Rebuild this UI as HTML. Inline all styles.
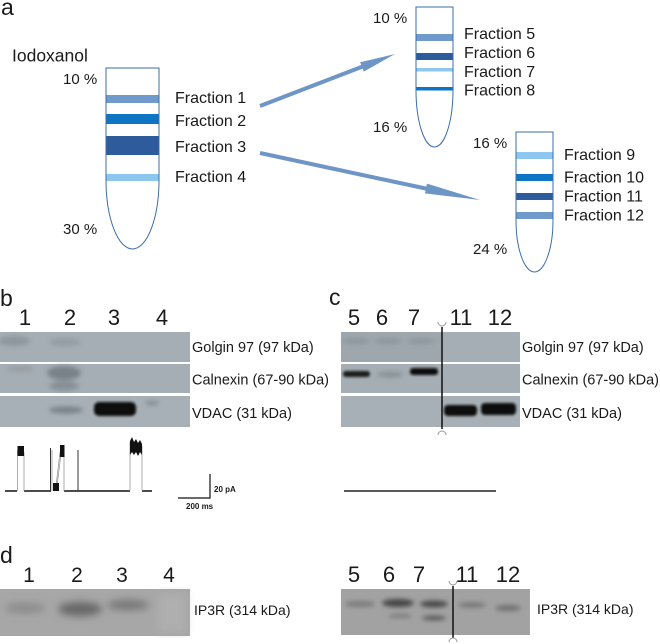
<!DOCTYPE html>
<html><head><meta charset="utf-8"><style>
html,body{margin:0;padding:0;background:#fff;}
svg{display:block;}
text{font-family:"Liberation Sans",Arial,sans-serif;fill:#1a1a1a;}
</style></head><body>
<svg width="660" height="644" viewBox="0 0 660 644" xmlns="http://www.w3.org/2000/svg">
<defs>
<filter id="f1" x="-50%" y="-100%" width="200%" height="300%"><feGaussianBlur stdDeviation="1.2"/></filter>
<filter id="f2" x="-50%" y="-100%" width="200%" height="300%"><feGaussianBlur stdDeviation="2.5"/></filter>
<filter id="f3" x="-50%" y="-100%" width="200%" height="300%"><feGaussianBlur stdDeviation="4"/></filter>
</defs>

<!-- Panel a -->
<text x="1" y="15" font-size="23">a</text>
<text x="12" y="61.5" font-size="17.5">Iodoxanol</text>

<!-- tube 1 -->
<rect x="106" y="95" width="53" height="8" fill="#6f9acb"/>
<rect x="106" y="114" width="53" height="10" fill="#0e75c5"/>
<rect x="106" y="136" width="53" height="19" fill="#2d5b9c"/>
<rect x="106" y="174" width="53" height="7" fill="#8dc6ef"/>
<path d="M106,68 H159 V180 A26.5,69 0 0 1 106,180 Z" fill="none" stroke="#3d6ea8" stroke-width="1"/>
<text x="63" y="84" font-size="15">10 %</text>
<text x="63" y="234" font-size="15">30 %</text>
<text x="175" y="103" font-size="16">Fraction 1</text>
<text x="175" y="126" font-size="16">Fraction 2</text>
<text x="175" y="152" font-size="16">Fraction 3</text>
<text x="175" y="182" font-size="16">Fraction 4</text>

<!-- arrows -->
<line x1="260" y1="106" x2="364" y2="66" stroke="#6d95c6" stroke-width="4"/>
<polygon points="395,54 363.8,71.6 360.2,62.3" fill="#6d95c6"/>
<line x1="260" y1="153" x2="428" y2="189" stroke="#6d95c6" stroke-width="4"/>
<polygon points="480,200 425,193.4 427,183.6" fill="#6d95c6"/>

<!-- tube 2 -->
<rect x="416" y="34" width="37" height="7" fill="#6f9acb"/>
<rect x="416" y="53" width="37" height="7" fill="#2d5b9c"/>
<rect x="416" y="68" width="37" height="3.5" fill="#8dc6ef"/>
<rect x="416" y="87" width="37" height="3.5" fill="#0e75c5"/>
<path d="M416,7 H453 V90 A18.5,57 0 0 1 416,90 Z" fill="none" stroke="#3d6ea8" stroke-width="1"/>
<text x="373" y="23" font-size="15">10 %</text>
<text x="373" y="132" font-size="15">16 %</text>
<text x="464" y="39" font-size="16">Fraction 5</text>
<text x="464" y="58" font-size="16">Fraction 6</text>
<text x="464" y="77" font-size="16">Fraction 7</text>
<text x="464" y="95.5" font-size="16">Fraction 8</text>

<!-- tube 3 -->
<rect x="516" y="152" width="37" height="7" fill="#8dc6ef"/>
<rect x="516" y="174" width="37" height="7" fill="#0e75c5"/>
<rect x="516" y="193" width="37" height="7" fill="#2d5b9c"/>
<rect x="516" y="212" width="37" height="7" fill="#6f9acb"/>
<path d="M516,132 H553 V220 A18.5,52 0 0 1 516,220 Z" fill="none" stroke="#3d6ea8" stroke-width="1"/>
<text x="473" y="148" font-size="15">16 %</text>
<text x="473" y="254" font-size="15">24 %</text>
<text x="564" y="160" font-size="16">Fraction 9</text>
<text x="564" y="182.5" font-size="16">Fraction 10</text>
<text x="564" y="201.5" font-size="16">Fraction 11</text>
<text x="564" y="220.5" font-size="16">Fraction 12</text>

<!-- Panel b -->
<text x="0" y="306" font-size="23">b</text>
<g font-size="22" text-anchor="middle">
<text x="25" y="325">1</text><text x="70" y="325">2</text><text x="114" y="325">3</text><text x="162" y="325">4</text>
</g>
<rect x="0" y="332" width="190" height="30" fill="#a5aeb4"/>
<rect x="0" y="364" width="190" height="29" fill="#a5aeb4"/>
<rect x="0" y="396" width="190" height="31" fill="#a7b0b6"/>
<g filter="url(#f2)">
<ellipse cx="14" cy="341" rx="16" ry="5" fill="#7a8389" opacity=".55"/>
<ellipse cx="65" cy="342" rx="16" ry="4" fill="#7a8389" opacity=".4"/>
<ellipse cx="20" cy="369" rx="14" ry="3" fill="#7a8389" opacity=".35"/>
<ellipse cx="64" cy="373" rx="17" ry="7" fill="#6a7379" opacity=".75"/>
<ellipse cx="64" cy="386" rx="15" ry="5" fill="#6f787e" opacity=".55"/>
<ellipse cx="66" cy="410" rx="17" ry="3.5" fill="#5f686e" opacity=".65"/>
<ellipse cx="152" cy="403" rx="7" ry="2.5" fill="#6f787e" opacity=".6"/>
</g>
<rect x="94" y="402" width="42" height="14" rx="5" fill="#0b0b0b" filter="url(#f1)"/>
<g font-size="14.5">
<text x="192" y="352">Golgin 97 (97 kDa)</text>
<text x="192" y="384.5">Calnexin (67-90 kDa)</text>
<text x="192" y="418">VDAC (31 kDa)</text>
</g>

<!-- Panel c -->
<text x="329" y="305" font-size="23">c</text>
<g font-size="22" text-anchor="middle">
<text x="354" y="325">5</text><text x="382" y="325">6</text><text x="414" y="325">7</text><text x="461" y="325">11</text><text x="500" y="325">12</text>
</g>
<rect x="341" y="332" width="179" height="30" fill="#a5aeb4"/>
<rect x="341" y="332" width="101" height="30" fill="#9ea7ad"/>
<rect x="341" y="364" width="179" height="29" fill="#a5aeb4"/>
<rect x="341" y="396" width="179" height="31" fill="#a7b0b6"/>
<g filter="url(#f2)">
<ellipse cx="356" cy="341" rx="14" ry="3" fill="#828b91" opacity=".6"/>
<ellipse cx="388" cy="341" rx="14" ry="3" fill="#828b91" opacity=".6"/>
<ellipse cx="421" cy="341" rx="14" ry="3" fill="#828b91" opacity=".6"/>
<ellipse cx="390" cy="374.5" rx="13" ry="3" fill="#7b8489" opacity=".7"/>
</g>
<g filter="url(#f1)">
<rect x="343" y="371" width="27" height="6" rx="3" fill="#1c1c1c"/>
<rect x="410" y="368" width="28" height="7" rx="3" fill="#111"/>
<rect x="444" y="405" width="33" height="11" rx="4" fill="#0a0a0a"/>
<rect x="481" y="403" width="35" height="12" rx="4" fill="#0a0a0a"/>
</g>
<line x1="442" y1="327" x2="442" y2="429" stroke="#111" stroke-width="1.5"/>
<path d="M438,322 A4,4 0 0 0 446,322" fill="none" stroke="#999" stroke-width="1"/>
<path d="M438,435 A4,4 0 0 1 446,435" fill="none" stroke="#999" stroke-width="1"/>
<g font-size="14.5">
<text x="522" y="352">Golgin 97 (97 kDa)</text>
<text x="522" y="384.5">Calnexin (67-90 kDa)</text>
<text x="522" y="418">VDAC (31 kDa)</text>
</g>

<!-- traces -->
<path d="M5,491H17 M24,491H51 M64,491H130 M142,491H152" stroke="#111" stroke-width="1.4" fill="none"/>
<path d="M17.5,491V450 M24,491V452 M52,491V450 M56,486L60,452 M57,486L61,454 M64,491V452 M130,491V442 M142,491V446" stroke="#999" stroke-width="0.8" fill="none"/>
<path d="M50.5,491V448 M78,491V450" stroke="#333" stroke-width="1" fill="none"/>
<rect x="17.5" y="446" width="6.5" height="10" fill="#111"/>
<rect x="60" y="445" width="4.5" height="12" fill="#111"/>
<rect x="53" y="483" width="6" height="8" fill="#111"/>
<path d="M130,441 L132,437 L134,442 L136,439 L138,443 L140,440 L142,444 V455 L140,452 L138,456 L136,452 L134,455 L132,452 L130,455 Z" fill="#111"/>
<path d="M178,498 H210 V474" stroke="#111" stroke-width="1.2" fill="none"/>
<text x="214" y="492" font-size="8" font-weight="bold">20 pA</text>
<text x="186" y="509" font-size="8" font-weight="bold">200 ms</text>
<path d="M344,491 H496" stroke="#222" stroke-width="1.6"/>

<!-- Panel d -->
<text x="0" y="563" font-size="23">d</text>
<g font-size="21" text-anchor="middle">
<text x="29" y="582">1</text><text x="77" y="582">2</text><text x="122" y="582">3</text><text x="169" y="582">4</text>
</g>
<rect x="0" y="589" width="190" height="47" fill="#a7a7a7"/>
<g filter="url(#f3)">
<rect x="158" y="594" width="28" height="38" fill="#afafaf"/>
</g>
<g filter="url(#f3)">
<ellipse cx="25" cy="608" rx="20" ry="5" fill="#8a8a8a"/>
<ellipse cx="80" cy="609" rx="22" ry="7" fill="#666"/>
<ellipse cx="128" cy="605" rx="21" ry="5" fill="#747474"/>
</g>
<text x="194" y="615" font-size="14">IP3R (314 kDa)</text>

<g font-size="22" text-anchor="middle">
<text x="354" y="582">5</text><text x="389" y="582">6</text><text x="419" y="582">7</text><text x="467" y="582">11</text><text x="508" y="582">12</text>
</g>
<rect x="341" y="589" width="189" height="46" fill="#a2a2a2"/>
<g filter="url(#f2)">
<ellipse cx="360" cy="604" rx="15" ry="3" fill="#7a7a7a"/>
<ellipse cx="398" cy="603" rx="16" ry="4" fill="#444"/>
<ellipse cx="400" cy="616" rx="12" ry="2" fill="#7a7a7a"/>
<ellipse cx="434" cy="604" rx="14" ry="3.5" fill="#4a4a4a"/>
<ellipse cx="434" cy="618" rx="12" ry="2.5" fill="#5a5a5a"/>
<ellipse cx="472" cy="605" rx="14" ry="3" fill="#7a7a7a"/>
<ellipse cx="508" cy="608" rx="13" ry="3" fill="#707070"/>
</g>
<line x1="453" y1="586" x2="453" y2="638" stroke="#111" stroke-width="1.5"/>
<path d="M449,581 A4,4 0 0 0 457,581" fill="none" stroke="#999" stroke-width="1"/>
<path d="M449,642 A4,4 0 0 1 457,642" fill="none" stroke="#999" stroke-width="1"/>
<text x="537" y="614" font-size="14">IP3R (314 kDa)</text>
</svg>
</body></html>
